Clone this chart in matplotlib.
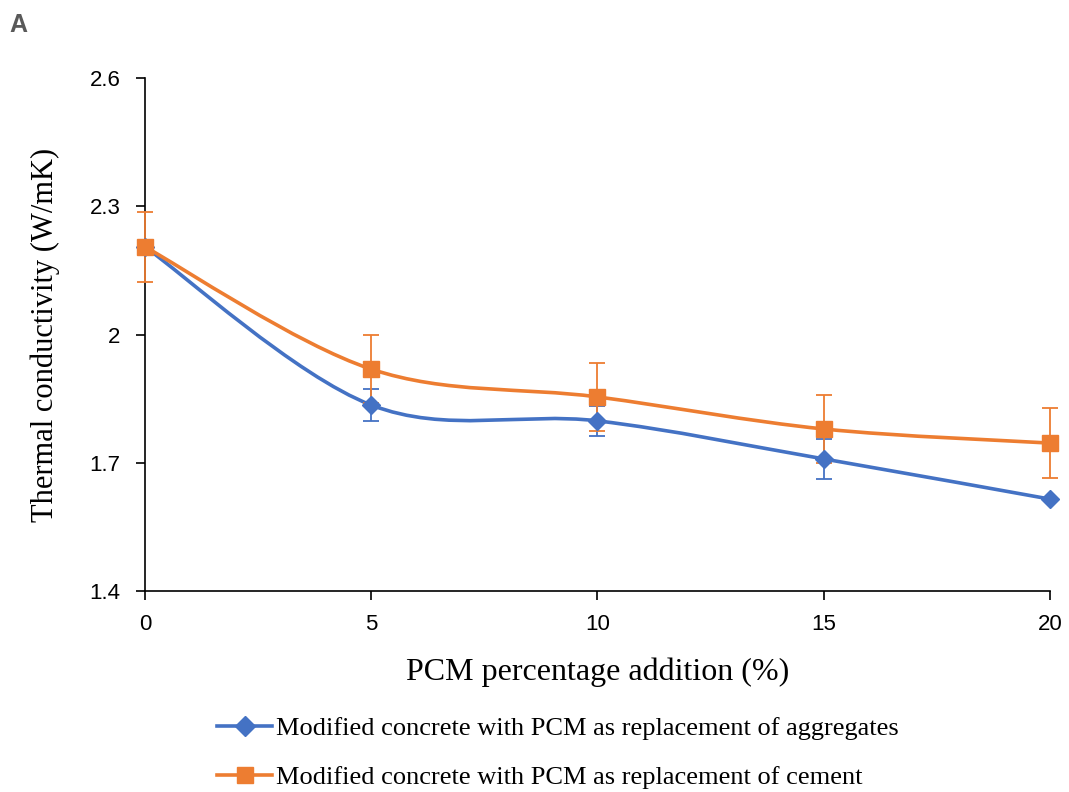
import numpy as np
import matplotlib.pyplot as plt
from matplotlib.path import Path
from matplotlib.patches import PathPatch
from matplotlib.lines import Line2D

pcm = [0, 5, 10, 15, 20]
aggregates = [2.205, 1.835, 1.798, 1.709, 1.615]
aggregates_err = [0.0, 0.037, 0.035, 0.046, 0.0]
cement = [2.205, 1.919, 1.854, 1.779, 1.746]
cement_err = [0.082, 0.08, 0.08, 0.08, 0.082]

labels = ["Modified concrete with PCM as replacement of aggregates",
          "Modified concrete with PCM as replacement of cement"]
blue = "#4472C4"
orange = "#ED7D31"


def smooth_path(x, y):
	# excel style smoothed line: catmull-rom segments as cubic beziers
	p = np.column_stack([x, y]).astype(float)
	pts = [p[0]]
	codes = [Path.MOVETO]
	n = len(p)
	for i in range(n - 1):
		p0 = p[i - 1] if i > 0 else p[i]
		p3 = p[i + 2] if i + 2 < n else p[i + 1]
		c1 = p[i] + (p[i + 1] - p0) / 6
		c2 = p[i + 1] - (p3 - p[i]) / 6
		pts += [c1, c2, p[i + 1]]
		codes += [Path.CURVE4] * 3
	return Path(pts, codes)


fig = plt.figure(figsize=(10.69, 7.92), dpi=100)
ax = fig.add_axes([0.1356, 0.2538, 0.8465, 0.6477])

for y, err, color, marker, ms in [(aggregates, aggregates_err, blue, "D", 9.5),
                                  (cement, cement_err, orange, "s", 11.5)]:
	ax.add_patch(PathPatch(smooth_path(pcm, y), fill=False, edgecolor=color, lw=2.6, zorder=2, clip_on=False))
	eb = ax.errorbar(pcm, y, yerr=err, fmt="none", ecolor=color, elinewidth=1.3, capsize=6, capthick=1.3, zorder=3)
	for art in eb.lines[1] + eb.lines[2]:
		art.set_clip_on(False)
	ax.plot(pcm, y, linestyle="none", marker=marker, color=color, markersize=ms, zorder=4, clip_on=False)

ax.set_xlim(0, 20)
ax.set_ylim(1.4, 2.6)
ax.set_xticks([0, 5, 10, 15, 20])
ax.set_yticks([1.4, 1.7, 2.0, 2.3, 2.6])
ax.set_yticklabels(["1.4", "1.7", "2", "2.3", "2.6"])
for s in ["top", "right"]:
	ax.spines[s].set_visible(False)
for s in ["left", "bottom"]:
	ax.spines[s].set_linewidth(1.2)
ax.tick_params(labelsize=16, length=6.5, width=1.2)
ax.tick_params(axis="y", pad=11)
ax.tick_params(axis="x", pad=10)
for t in ax.get_xticklabels() + ax.get_yticklabels():
	t.set_fontfamily("Liberation Sans")
ax.set_xlabel("PCM percentage addition (%)", fontfamily="Liberation Serif", fontsize=23, labelpad=16)
ax.set_ylabel("Thermal conductivity (W/mK)", fontfamily="Liberation Serif", fontsize=22, labelpad=21)

handles = [Line2D([], [], color=blue, lw=2.6, marker="D", markersize=10),
           Line2D([], [], color=orange, lw=2.6, marker="s", markersize=12)]
fig.legend(handles, labels, loc="upper left", bbox_to_anchor=(0.193, 0.108), frameon=False,
           prop={"family": "Liberation Serif", "size": 19}, handlelength=2.1, handletextpad=0.15,
           labelspacing=0.95, borderaxespad=0)

fig.text(0.009, 0.968, "A", fontfamily="Liberation Sans", fontweight="bold", fontsize=18,
         color="#595959", va="center")

fig.savefig("out.png", dpi=100)
